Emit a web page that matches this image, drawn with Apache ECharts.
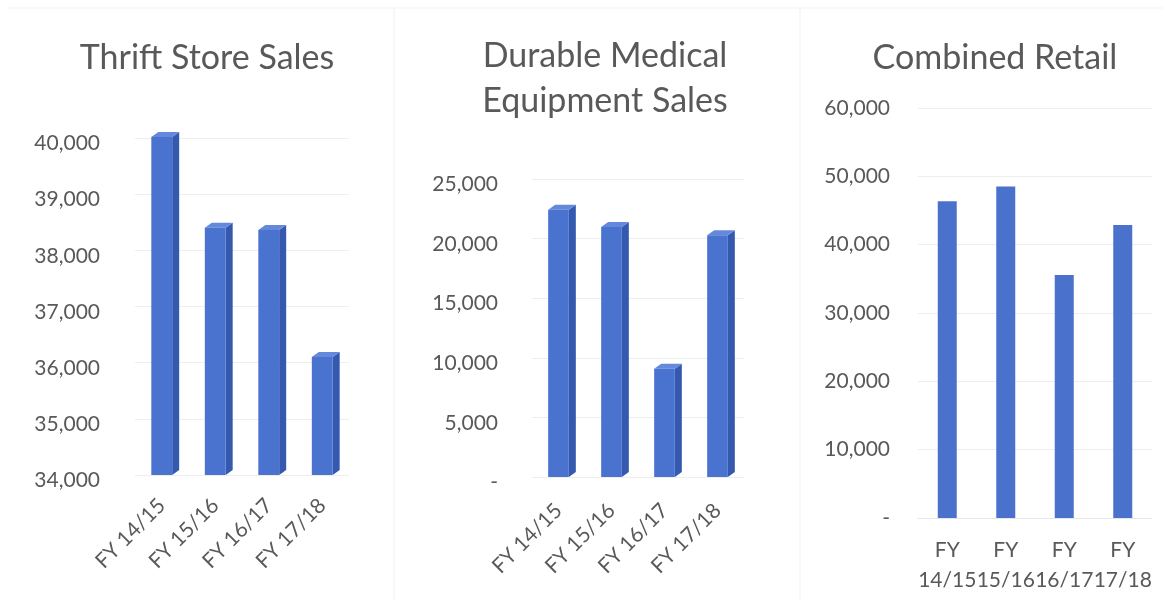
<!DOCTYPE html>
<html>
<head>
<meta charset="utf-8">
<script src="https://cdn.jsdelivr.net/npm/echarts@6/dist/echarts.min.js"></script>
<style>
  html, body { margin: 0; padding: 0; background: #ffffff; }
  #chart { width: 1171px; height: 607px; }
</style>
</head>
<body>
<div id="chart"></div>
<script>
// Fiscal years shown on every panel
const categories = ['FY 14/15', 'FY 15/16', 'FY 16/17', 'FY 17/18'];

// Sales per fiscal year
const thriftSales = [40020, 38400, 38360, 36100];
const dmeSales = [22430, 20970, 9090, 20280];
const combinedRetail = [46360, 48500, 35550, 42890];

// Value axis ranges
const thriftAxis = { min: 34000, max: 40000, interval: 1000 };
const dmeAxis = { min: 0, max: 25000, interval: 5000 };
const combinedAxis = { min: 0, max: 60000, interval: 10000 };

const FONT = 'Lato';
const TEXT = '#595959';
const FRONT = '#4a72cf';
const SIDE = '#3659b0';
const TOP = '#6489dc';
const GRID_LINE = '#eeeeee';

function fmt(v) {
  return v === 0 ? '-' : v.toLocaleString('en-US');
}

// Column with a shaded side and top face, drawn from the axis baseline
function columns3d(baseValue) {
  return function (params, api) {
    const idx = api.value(0);
    const top = api.coord([idx, api.value(1)]);
    const bottom = api.coord([idx, baseValue]);
    const w = api.size([1, 0])[0] * 0.39;
    const x0 = top[0] - w / 2;
    const x1 = x0 + w;
    const dx = 7, dy = -5;
    return {
      type: 'group',
      children: [
        { type: 'polygon',
          shape: { points: [[x1, top[1]], [x1 + dx, top[1] + dy], [x1 + dx, bottom[1] + dy], [x1, bottom[1]]] },
          style: { fill: SIDE } },
        { type: 'polygon',
          shape: { points: [[x0, top[1]], [x0 + dx, top[1] + dy], [x1 + dx, top[1] + dy], [x1, top[1]]] },
          style: { fill: TOP } },
        { type: 'rect',
          shape: { x: x0, y: top[1], width: w, height: bottom[1] - top[1] },
          style: { fill: FRONT } }
      ]
    };
  };
}

const pairs = vals => vals.map((v, i) => [i, v]);

const LABEL_SIZE = 21;
const valueLabel = {
  color: TEXT, fontFamily: FONT, fontSize: LABEL_SIZE, formatter: fmt
};
// Labels on the 3D panels sit a little below their grid lines
const lowered = { verticalAlign: 'top', lineHeight: 11 };

const titleStyle = { color: TEXT, fontFamily: FONT, fontSize: 34, fontWeight: 'normal', lineHeight: 45 };

const chart = echarts.init(document.getElementById('chart'), null, { renderer: 'canvas' });

chart.setOption({
  backgroundColor: '#ffffff',
  animation: false,
  title: [
    { text: 'Thrift Store Sales', left: 202, top: 31, textAlign: 'center', textStyle: titleStyle },
    { text: 'Durable Medical\nEquipment Sales', left: 600, top: 29, textAlign: 'center', textStyle: titleStyle },
    { text: 'Combined Retail', left: 990, top: 31, textAlign: 'center', textStyle: titleStyle }
  ],
  graphic: [
    { type: 'line', shape: { x1: 394, y1: 8, x2: 394, y2: 600 }, style: { stroke: '#f1f1f1', lineWidth: 1 } },
    { type: 'line', shape: { x1: 800, y1: 8, x2: 800, y2: 600 }, style: { stroke: '#f1f1f1', lineWidth: 1 } },
    { type: 'line', shape: { x1: 8, y1: 8, x2: 1163, y2: 8 }, style: { stroke: '#f3f3f3', lineWidth: 1 } }
  ],
  grid: [
    { left: 135, right: 822, top: 138, bottom: 132 },
    { left: 532, right: 427, top: 179, bottom: 130 },
    { left: 918, right: 19, top: 108, bottom: 89 }
  ],
  xAxis: [
    { type: 'category', gridIndex: 0, data: categories,
      axisLine: { show: false }, axisTick: { show: false },
      axisLabel: { color: TEXT, fontFamily: FONT, fontSize: LABEL_SIZE, rotate: 45, margin: 27, interval: 0 } },
    { type: 'category', gridIndex: 1, data: categories,
      axisLine: { show: false }, axisTick: { show: false },
      axisLabel: { color: TEXT, fontFamily: FONT, fontSize: LABEL_SIZE, rotate: 45, margin: 30, interval: 0 } },
    { type: 'category', gridIndex: 2, data: categories,
      axisLine: { show: true, lineStyle: { color: '#e6e6e6' } }, axisTick: { show: false },
      axisLabel: { color: TEXT, fontFamily: FONT, fontSize: LABEL_SIZE, lineHeight: 30, margin: 17, interval: 0,
        formatter: v => v.replace(' ', '\n') } }
  ],
  yAxis: [
    Object.assign({ type: 'value', gridIndex: 0,
      axisLine: { show: false }, axisTick: { show: false },
      splitLine: { lineStyle: { color: GRID_LINE } },
      axisLabel: Object.assign({ margin: 35 }, valueLabel, lowered) }, thriftAxis),
    Object.assign({ type: 'value', gridIndex: 1,
      axisLine: { show: false }, axisTick: { show: false },
      splitLine: { lineStyle: { color: GRID_LINE } },
      axisLabel: Object.assign({ margin: 34 }, valueLabel, lowered) }, dmeAxis),
    Object.assign({ type: 'value', gridIndex: 2,
      axisLine: { show: false }, axisTick: { show: false },
      splitLine: { lineStyle: { color: GRID_LINE } },
      axisLabel: Object.assign({ margin: 28 }, valueLabel) }, combinedAxis)
  ],
  series: [
    { name: 'Thrift Store Sales', type: 'custom', xAxisIndex: 0, yAxisIndex: 0,
      renderItem: columns3d(thriftAxis.min), encode: { x: 0, y: 1 }, clip: false,
      data: pairs(thriftSales) },
    { name: 'Durable Medical Equipment Sales', type: 'custom', xAxisIndex: 1, yAxisIndex: 1,
      renderItem: columns3d(dmeAxis.min), encode: { x: 0, y: 1 }, clip: false,
      data: pairs(dmeSales) },
    { name: 'Combined Retail', type: 'bar', xAxisIndex: 2, yAxisIndex: 2,
      barWidth: 19, itemStyle: { color: '#4a72cc' },
      data: combinedRetail }
  ]
});
</script>
</body>
</html>
